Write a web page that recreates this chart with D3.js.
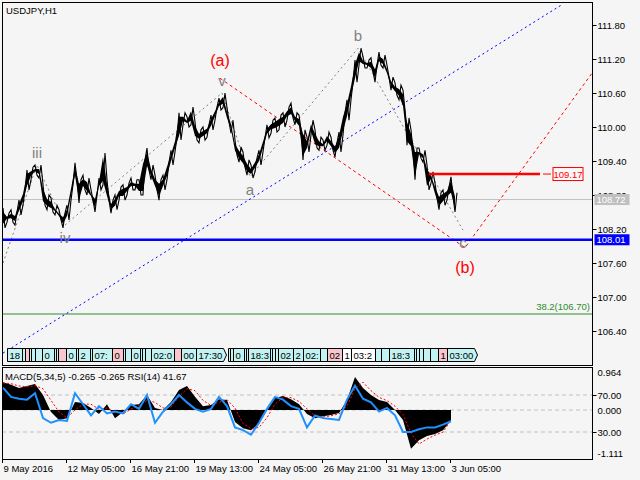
<!DOCTYPE html>
<html>
<head>
<meta charset="utf-8">
<script src="https://d3js.org/d3.v7.min.js"></script>
<style>
html, body { margin: 0; padding: 0; background: #f5f5f5; }
svg { display: block; font-family: "Liberation Sans", Arial, sans-serif; }
</style>
</head>
<body>
<div id="chart"></div>
<script>
// ---------------------------------------------------------------------------
// USDJPY H1 (1 echantillon = 4 barres)
// ---------------------------------------------------------------------------
const priceHigh = [
  108.57, 108.48, 108.54, 108.50, 108.71, 108.89, 109.24, 109.29, 109.33, 109.33,
  108.98, 108.80, 108.75, 108.62, 108.54, 108.48, 108.62, 108.98, 109.37, 109.07,
  109.15, 109.10, 108.89, 108.80, 109.10, 109.54, 109.07, 108.71, 108.80, 108.94,
  108.98, 109.01, 109.10, 109.07, 109.07, 109.42, 109.63, 109.33, 109.15, 109.07,
  109.15, 109.37, 109.59, 109.82, 110.25, 110.25, 110.18, 110.35, 110.09, 109.95,
  110.00, 110.04, 110.21, 110.35, 110.51, 110.60, 110.34, 110.12, 109.77, 109.65,
  109.56, 109.42, 109.33, 109.45, 109.59, 109.81, 110.04, 110.12, 110.16, 110.21,
  110.25, 110.35, 110.42, 110.25, 110.21, 109.95, 109.82, 110.12, 109.95, 109.82,
  109.77, 109.91, 109.82, 109.72, 109.91, 110.25, 110.48, 110.79, 111.18, 111.39,
  111.24, 111.18, 111.22, 111.09, 111.32, 111.27, 111.09, 110.88, 110.78, 110.74,
  110.65, 110.16, 109.95, 109.63, 109.63, 109.59, 109.33, 109.21, 109.01, 108.84,
  108.89, 108.94, 109.12, 108.84
];
const priceLow = [
  108.22, 108.32, 108.32, 108.27, 108.45, 108.62, 108.89, 109.07, 109.15, 109.10,
  108.62, 108.54, 108.50, 108.45, 108.36, 108.22, 108.36, 108.71, 109.07, 108.66,
  108.89, 108.80, 108.71, 108.50, 108.89, 108.98, 108.71, 108.48, 108.54, 108.71,
  108.71, 108.80, 108.89, 108.89, 108.80, 108.80, 109.24, 109.07, 108.89, 108.71,
  108.89, 109.07, 109.33, 109.56, 109.77, 110.04, 110.00, 110.04, 109.77, 109.72,
  109.77, 109.82, 109.95, 110.12, 110.30, 110.34, 110.09, 109.89, 109.51, 109.38,
  109.29, 109.15, 109.10, 109.21, 109.33, 109.56, 109.81, 109.89, 109.91, 109.95,
  110.00, 110.12, 110.16, 110.04, 109.95, 109.42, 109.56, 109.86, 109.63, 109.59,
  109.59, 109.68, 109.59, 109.47, 109.56, 109.86, 110.12, 110.48, 110.79, 111.09,
  111.04, 111.04, 110.97, 110.79, 111.09, 111.04, 110.88, 110.65, 110.56, 110.48,
  110.30, 109.68, 109.59, 109.07, 109.45, 109.38, 108.89, 109.01, 108.75, 108.54,
  108.62, 108.71, 108.77, 108.50
];

// Indicateurs (1 echantillon = 8 barres)
const macdMain = [
  0.72, 0.65, 0.57, 0.62, 0.67, 0.39, -0.05, -0.26, -0.21, 0.21,
  0.18, 0.05, -0.10, 0.15, -0.21, -0.05, 0.13, 0.15, 0.39, 0.05,
  0.00, 0.21, 0.52, 0.62, 0.34, 0.10, 0.13, 0.28, 0.26, -0.31,
  -0.47, -0.52, -0.36, 0.00, 0.31, 0.36, 0.28, 0.15, -0.10, -0.21,
  -0.16, -0.13, -0.08, 0.26, 0.85, 0.57, 0.39, 0.26, 0.21, 0.00,
  -0.26, -1.00, -0.78, -0.67, -0.62, -0.52, -0.265
];
const macdSignal = [
  0.70, 0.68, 0.62, 0.60, 0.63, 0.55, 0.25, -0.05, -0.20, 0.00,
  0.15, 0.15, 0.02, 0.05, -0.05, -0.10, 0.02, 0.12, 0.25, 0.20,
  0.05, 0.08, 0.35, 0.55, 0.50, 0.25, 0.12, 0.20, 0.27, 0.05,
  -0.35, -0.48, -0.45, -0.20, 0.15, 0.32, 0.32, 0.22, 0.03, -0.15,
  -0.18, -0.15, -0.10, 0.10, 0.55, 0.72, 0.50, 0.33, 0.24, 0.10,
  -0.12, -0.60, -0.88, -0.75, -0.65, -0.57, -0.265
];
const rsiValues = [
  78, 68, 66, 65, 72, 45, 40, 43, 42, 72,
  60, 48, 58, 50, 52, 50, 60, 55, 70, 40,
  52, 60, 70, 62, 55, 52, 55, 68, 58, 35,
  32, 27, 40, 55, 68, 65, 58, 55, 35, 48,
  45, 44, 43, 65, 80, 66, 62, 52, 56, 48,
  30, 30, 33, 35, 35, 38, 41.67
];

// Axes
const priceTicks = [111.80, 111.20, 110.60, 110.00, 109.40, 108.80, 108.20, 107.60, 107.00, 106.40];
const timeBars = [0, 64, 128, 192, 256, 320, 384, 448];
const timeLabels = ['9 May 2016', '12 May 05:00', '16 May 21:00', '19 May 13:00',
                    '24 May 05:00', '26 May 21:00', '31 May 13:00', '3 Jun 05:00'];

// Niveaux
const bidPrice = 108.72;
const supportPrice = 108.01;
const resistancePrice = 109.17;
const resistanceStartBar = 427;
const fiboPrice = 106.70;
const fiboLabel = '38.2(106.70)';

// Vagues d'Elliott (zigzag gris)
const waveBars   = [1, 35, 63, 220, 248, 356, 461];
const wavePrices = [107.60, 109.33, 108.27, 110.60, 109.12, 111.39, 108.18];
const waveNames  = ['', 'iii', 'iv', 'v', 'a', 'b', 'c'];

// Vagues majeures (pointilles rouges)
const majorBars   = [218, 463, 590];
const majorPrices = [110.86, 107.87, 110.95];
const majorNames  = ['(a)', '(b)', ''];

// Canal de tendance (pointilles bleus)
const channelBars   = [1, 561];
const channelPrices = [106.01, 112.17];

// Bandeau des sessions
const tlBars = [5, 20, 23, 27, 29, 33, 40, 52, 54, 56, 64, 74, 76, 88, 90, 110, 121, 123, 129,
  138, 140, 143, 149, 172, 179, 194, 226, 228, 231, 242, 244, 246, 268, 270, 273, 276, 291,
  301, 318, 325, 340, 349, 373, 379, 387, 412, 414, 417, 421, 428, 436, 445];
const tlTexts = ['18:30', '20:00', '00:00', '20:00', '20:00', '20:00', '00:00', '20:00', '20:00',
  '00:00', '00:00', '20:00', '20:00', '20:00', '07:30', '00:00', '20:00', '12:00', '00:00',
  '20:00', '20:00', '20:00', '02:00', '00:00', '00:00', '17:30', '20:00', '20:00', '00:00',
  '20:00', '20:00', '18:30', '20:00', '20:00', '20:00', '02:00', '20:00', '02:00', '20:00',
  '02:00', '12:00', '03:20', '00:00', '00:00', '18:30', '20:00', '20:00', '20:00', '00:00',
  '00:00', '12:00', '03:00'];
const tlKinds = ['c', 'c', 'p', 'c', 'c', 'c', 'c', 'c', 'c', 'p', 'c', 'c', 'c', 'c', 'c', 'p',
  'c', 'c', 'c', 'c', 'c', 'c', 'c', 'p', 'c', 'c', 'c', 'c', 'c', 'c', 'c', 'c', 'c', 'c', 'c',
  'c', 'c', 'c', 'c', 'p', 'w', 'w', 'c', 'c', 'c', 'c', 'c', 'c', 'c', 'c', 'p', 'c'];

const PRICE_STEP = 4;
const IND_STEP = 8;
const FIRST_BAR = 1;

// ---------------------------------------------------------------------------
const width = 640, height = 480;
const main = { left: 2, right: 592, top: 2, bottom: 365 };
const sub = { top: 367, bottom: 459 };
const FONT = '9.5px';

const svg = d3.select('#chart').append('svg')
    .attr('width', width)
    .attr('height', height);

svg.append('rect').attr('width', width).attr('height', height).attr('fill', '#f5f5f5');

const defs = svg.append('defs');
defs.append('clipPath').attr('id', 'clip-main').append('rect')
    .attr('x', main.left).attr('y', main.top)
    .attr('width', main.right - main.left).attr('height', main.bottom - main.top);
defs.append('clipPath').attr('id', 'clip-sub').append('rect')
    .attr('x', main.left).attr('y', sub.top)
    .attr('width', main.right - main.left).attr('height', sub.bottom - sub.top);

// Echelles
const xScale = d3.scaleLinear().domain([0, 590]).range([main.left, main.right]);
const yPrice = d3.scaleLinear().domain([106.40, 111.80]).range([331, 25]);
const yMacd = d3.scaleLinear().domain([-1.111, 0.964]).range([453, 372.7]);
const yRsi = d3.scaleLinear().domain([30, 70]).range([432, 395]);

const gMain = svg.append('g').attr('clip-path', 'url(#clip-main)');
const gSub = svg.append('g').attr('clip-path', 'url(#clip-sub)');

// Lignes horizontales (sous les prix)
gMain.append('line')
    .attr('x1', main.left).attr('x2', main.right)
    .attr('y1', yPrice(bidPrice)).attr('y2', yPrice(bidPrice))
    .attr('stroke', '#c0c0c0').attr('stroke-width', 1);

gMain.append('line')
    .attr('x1', main.left).attr('x2', main.right)
    .attr('y1', yPrice(fiboPrice)).attr('y2', yPrice(fiboPrice))
    .attr('stroke', '#2e8b2e').attr('stroke-width', 1);

gMain.append('text')
    .attr('x', main.right - 2).attr('y', yPrice(fiboPrice) - 4)
    .attr('text-anchor', 'end')
    .style('font-size', FONT).style('fill', '#2e8b2e')
    .text(fiboLabel);

// Canal bleu
const line = d3.line().x(d => xScale(d[0])).y(d => yPrice(d[1]));
gMain.append('path')
    .attr('d', line(channelBars.map((b, i) => [b, channelPrices[i]])))
    .attr('fill', 'none').attr('stroke', '#0000ff').attr('stroke-width', 1)
    .attr('stroke-dasharray', '2,3');

// Zigzag gris
gMain.append('path')
    .attr('d', line(waveBars.map((b, i) => [b, wavePrices[i]])))
    .attr('fill', 'none').attr('stroke', '#808080').attr('stroke-width', 1)
    .attr('stroke-dasharray', '2,3');

// Zigzag rouge
gMain.append('path')
    .attr('d', line(majorBars.map((b, i) => [b, majorPrices[i]])))
    .attr('fill', 'none').attr('stroke', '#ff0000').attr('stroke-width', 1)
    .attr('stroke-dasharray', '3,3');

// Prix : coeur du ruban + dents de scie haut/bas
const priceBar = i => FIRST_BAR + i * PRICE_STEP;
const coreHalf = i => Math.max(1, (yPrice(priceLow[i]) - yPrice(priceHigh[i])) / 2 - 4);
const coreMid = i => (yPrice(priceLow[i]) + yPrice(priceHigh[i])) / 2;
gMain.append('path')
    .datum(priceHigh)
    .attr('d', d3.area()
        .x((d, i) => xScale(priceBar(i)))
        .y0((d, i) => coreMid(i) + coreHalf(i))
        .y1((d, i) => coreMid(i) - coreHalf(i)))
    .attr('fill', '#000');
const pricePts = [];
priceHigh.forEach((h, i) => {
    const b = priceBar(i);
    if (i % 2 === 0) {
        pricePts.push([b, h], [b + 2, priceLow[i]]);
    } else {
        pricePts.push([b, priceLow[i]], [b + 2, h]);
    }
});
gMain.append('path')
    .attr('d', line(pricePts))
    .attr('fill', 'none').attr('stroke', '#000').attr('stroke-width', 1.1);

// Support bleu
gMain.append('line')
    .attr('x1', main.left).attr('x2', main.right)
    .attr('y1', yPrice(supportPrice)).attr('y2', yPrice(supportPrice))
    .attr('stroke', '#0000ff').attr('stroke-width', 2.5);

// Resistance rouge
const yRes = yPrice(resistancePrice);
gMain.append('line')
    .attr('x1', xScale(resistanceStartBar)).attr('x2', main.right - 52)
    .attr('y1', yRes).attr('y2', yRes)
    .attr('stroke', '#ff0000').attr('stroke-width', 2.5);
gMain.append('line')
    .attr('x1', main.right - 49).attr('x2', main.right - 41)
    .attr('y1', yRes).attr('y2', yRes)
    .attr('stroke', '#ff0000').attr('stroke-width', 1);
gMain.append('rect')
    .attr('x', main.right - 39).attr('y', yRes - 6.5)
    .attr('width', 30).attr('height', 13)
    .attr('fill', '#f8f8f8').attr('stroke', '#ff0000');
gMain.append('text')
    .attr('x', main.right - 24).attr('y', yRes + 3.5)
    .attr('text-anchor', 'middle')
    .style('font-size', FONT).style('fill', '#ff0000')
    .text(resistancePrice.toFixed(2));

// Etiquettes des vagues
function isPeak(prices, i) {
    const prev = i > 0 ? prices[i - 1] : -Infinity;
    const next = i < prices.length - 1 ? prices[i + 1] : -Infinity;
    return prices[i] > prev && prices[i] > next;
}
waveNames.forEach((name, i) => {
    if (!name) return;
    const up = isPeak(wavePrices, i);
    gMain.append('text')
        .attr('x', xScale(waveBars[i]))
        .attr('y', yPrice(wavePrices[i]) + (up ? -7 : 18))
        .attr('text-anchor', 'middle')
        .style('font-size', '15px').style('fill', '#808080')
        .text(name);
});
majorNames.forEach((name, i) => {
    if (!name) return;
    const up = i === 0;
    gMain.append('text')
        .attr('x', xScale(majorBars[i]))
        .attr('y', yPrice(majorPrices[i]) + (up ? -12 : 25))
        .attr('text-anchor', 'middle')
        .style('font-size', '16px').style('fill', '#ff0000')
        .text(name);
});

// Bandeau des sessions : chaque etiquette recouvre la precedente,
// le texte est coupe a la partie visible
const tlColors = { c: '#c2f2f2', p: '#f8c6cc', w: '#ffffff' };
const BOX_W = 27;
tlBars.forEach((b, i) => {
    const x = Math.round(xScale(b)) + 0.5;
    const nextX = i < tlBars.length - 1 ? xScale(tlBars[i + 1]) : Infinity;
    const g = gMain.append('g');
    g.append('path')
        .attr('d', `M${x},348.5 H${x + BOX_W} L${x + BOX_W + 3},355 L${x + BOX_W},361.5 H${x} Z`)
        .attr('fill', tlColors[tlKinds[i]])
        .attr('stroke', '#000').attr('stroke-width', 1);
    const txt = g.append('text')
        .attr('x', x + 2).attr('y', 359)
        .style('font-size', FONT).style('fill', '#000')
        .text(tlTexts[i]);
    const room = nextX - x - 3;
    let s = tlTexts[i];
    while (s.length && txt.node().getComputedTextLength() > room) {
        s = s.slice(0, -1);
        txt.text(s);
    }
    if (!s.length) txt.remove();
});

// Titre
svg.append('text')
    .attr('x', 6).attr('y', 14)
    .style('font-size', FONT).style('fill', '#000')
    .text('USDJPY,H1');

// ---------------------------------------------------------------------------
// Sous-fenetre MACD + RSI
// ---------------------------------------------------------------------------
[70, 30].forEach(v => {
    gSub.append('line')
        .attr('x1', main.left).attr('x2', main.right)
        .attr('y1', yRsi(v)).attr('y2', yRsi(v))
        .attr('stroke', '#c0c0c0').attr('stroke-dasharray', '4,3');
});
gSub.append('line')
    .attr('x1', main.left).attr('x2', main.right)
    .attr('y1', yMacd(0)).attr('y2', yMacd(0))
    .attr('stroke', '#c0c0c0').attr('stroke-dasharray', '4,3');

const indBar = i => FIRST_BAR + i * IND_STEP;

gSub.append('path')
    .datum(macdMain)
    .attr('d', d3.area()
        .x((d, i) => xScale(indBar(i)))
        .y0(yMacd(0))
        .y1(d => yMacd(d)))
    .attr('fill', '#000');

gSub.append('path')
    .datum(macdSignal)
    .attr('d', d3.line().x((d, i) => xScale(indBar(i))).y(d => yMacd(d)))
    .attr('fill', 'none').attr('stroke', '#ff0000').attr('stroke-width', 1)
    .attr('stroke-dasharray', '2,2');

gSub.append('path')
    .datum(rsiValues)
    .attr('d', d3.line().x((d, i) => xScale(indBar(i))).y(d => yRsi(d)))
    .attr('fill', 'none').attr('stroke', '#1e90ff').attr('stroke-width', 2);

svg.append('text')
    .attr('x', 5).attr('y', 380)
    .style('font-size', FONT).style('fill', '#000')
    .text('MACD(5,34,5) -0.265 -0.265 RSI(14) 41.67');

// Cadres
svg.append('rect')
    .attr('x', main.left + 0.5).attr('y', main.top + 0.5)
    .attr('width', main.right - main.left).attr('height', main.bottom - main.top)
    .attr('fill', 'none').attr('stroke', '#000');
svg.append('rect')
    .attr('x', main.left + 0.5).attr('y', sub.top + 0.5)
    .attr('width', main.right - main.left).attr('height', sub.bottom - sub.top)
    .attr('fill', 'none').attr('stroke', '#000');

// Axe des prix (l'etiquette cachee par le prix Bid n'est pas ecrite)
const axisX = main.right + 0.5;
priceTicks.forEach(p => {
    svg.append('line')
        .attr('x1', axisX).attr('x2', axisX + 4)
        .attr('y1', Math.round(yPrice(p)) + 0.5).attr('y2', Math.round(yPrice(p)) + 0.5)
        .attr('stroke', '#000');
    svg.append('text')
        .attr('x', axisX + 5).attr('y', yPrice(p) + 3.5)
        .style('font-size', FONT).style('fill', '#000')
        .text(p.toFixed(2));
});

// Etiquettes de prix a droite
function priceTag(price, bg, fg) {
    const y = yPrice(price);
    svg.append('rect')
        .attr('x', axisX + 2).attr('y', y - 5.5)
        .attr('width', 35).attr('height', 11)
        .attr('fill', bg);
    svg.append('text')
        .attr('x', axisX + 4).attr('y', y + 3.5)
        .style('font-size', FONT).style('fill', fg)
        .text(price.toFixed(2));
}
priceTag(bidPrice, '#c0c0c0', '#ffffff');
priceTag(supportPrice, '#0000ff', '#ffffff');

// Axe indicateurs
const subLabels = [
    { y: yMacd(0.964), t: '0.964', tick: false },
    { y: yRsi(70), t: '70.00', tick: true },
    { y: yMacd(0), t: '0.000', tick: false },
    { y: yRsi(30), t: '30.00', tick: true },
    { y: yMacd(-1.111), t: '-1.111', tick: false }
];
subLabels.forEach(d => {
    if (d.tick) {
        svg.append('line')
            .attr('x1', axisX).attr('x2', axisX + 4)
            .attr('y1', Math.round(d.y) + 0.5).attr('y2', Math.round(d.y) + 0.5)
            .attr('stroke', '#000');
    }
    svg.append('text')
        .attr('x', axisX + 5).attr('y', d.y + 3.5)
        .style('font-size', FONT).style('fill', '#000')
        .text(d.t);
});

// Axe du temps
timeBars.forEach((b, i) => {
    const x = Math.round(xScale(b)) + 0.5;
    svg.append('line')
        .attr('x1', x).attr('x2', x)
        .attr('y1', sub.bottom).attr('y2', sub.bottom + 4)
        .attr('stroke', '#000');
    svg.append('text')
        .attr('x', x + 1).attr('y', 472)
        .style('font-size', FONT).style('fill', '#000')
        .text(timeLabels[i]);
});
</script>
</body>
</html>
